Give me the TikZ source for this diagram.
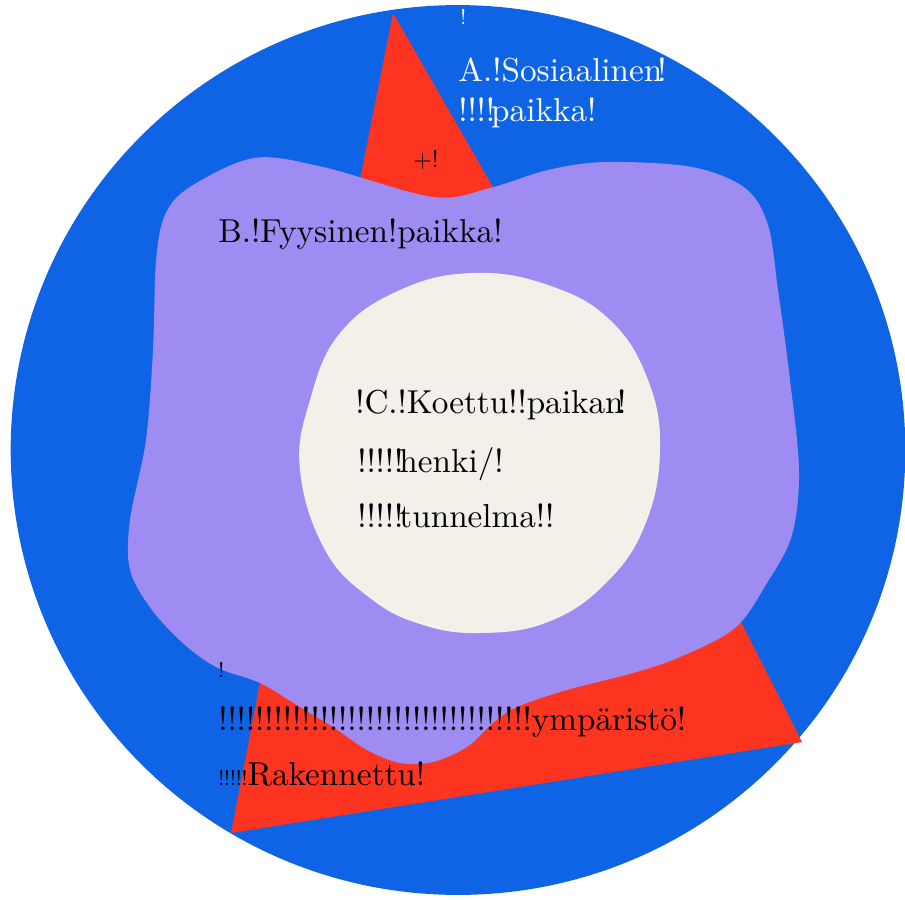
\documentclass[tikz,border=0pt]{standalone}
\usepackage{fontspec}
\setmainfont{lmroman10-regular.otf}
\usepackage{tikz}
\usetikzlibrary{positioning}

\definecolor{paperblue}{RGB}{14,100,228}
\definecolor{paperred}{RGB}{252,52,32}
\definecolor{paperlilac}{RGB}{158,140,243}
\definecolor{paperwhite}{RGB}{242,240,232}

\begin{document}
\begin{tikzpicture}[x=0.025cm, y=-0.025cm,
    lbl/.style={inner sep=0pt, anchor=base west, font=\fontsize{23.6}{28}\selectfont},
    smalllbl/.style={inner sep=0pt, anchor=base west, font=\fontsize{15}{18}\selectfont}]
  \useasboundingbox (0,0) rectangle (905,899);
  \clip (0,0) rectangle (905,899);
  % the blue circle: A
  \fill[paperblue] (458,450) ellipse [x radius=11.18cm, y radius=11.12cm];
  % red pieces
  \fill[paperred] (393,13) -- (354,210) -- (506,210) -- cycle;
  \fill[paperred] (260,683) -- (231,833) -- (802,742) -- (739,618) -- cycle;
  % lilac blob: B
  \fill[paperlilac] plot[smooth cycle, tension=0.55] coordinates {
    (190,187) (254,158) (323,167) (433,197) (490,188) (548,170) (606,162)
    (692,167) (745,188) (768,225) (778,290) (790,380) (799,470) (792,535)
    (767,583) (735,628) (680,657) (633,673) (567,690) (517,707) (493,723)
    (467,747) (433,762) (400,763) (367,750) (333,727) (300,707) (260,683)
    (218,668) (185,645) (152,610) (130,570) (130,520) (146,440) (153,350)
    (156,262) (165,215)};
  % white circle: C
  \fill[paperwhite] plot[smooth cycle, tension=0.7] coordinates {
    (473,273) (548,285) (610,320) (648,380) (660,450) (645,525) (606,583)
    (548,622) (479,633) (420,624) (370,598) (325,550) (300,470) (310,400)
    (340,333) (400,290)};
  % texts
  \node[smalllbl, text=white] (topmark) at (460,25) {!};
  \node[lbl, text=white] (sosA) at (458,82) {A.!Sosiaalinen\kern-.15em!};
  \node[lbl, text=white] (paikkaA) at (458,122) {!!!!\kern-.12em paikka!};
  \node[inner sep=0pt, anchor=base west, font=\fontsize{17}{20}\selectfont] (plusA) at (413,168) {+!};
  \node[lbl] (fyysB) at (218,242) {B.!Fyysinen!paikka!};
  \node[lbl] (koettuC) at (355,413) {!C.!Koettu!!paikan\kern-.2em!};
  \node[lbl] (henkiC) at (357,472) {!!!!!\kern-.12em henki/!};
  \node[lbl] (tunnelmaC) at (357,527) {!!!!!\kern-.12em tunnelma!!};
  \node[smalllbl] (markD) at (218,677) {!};
  \node[lbl] (ymparD) at (218,730) {!!!!!!!!!!!!!!!!!!!!!!!!!!!!!!!!!!ympäristö!};
  \node[lbl] (rakD) at (218,785) {{\fontsize{15}{18}\selectfont !!!!!}Rakennettu!};
\end{tikzpicture}
\end{document}
